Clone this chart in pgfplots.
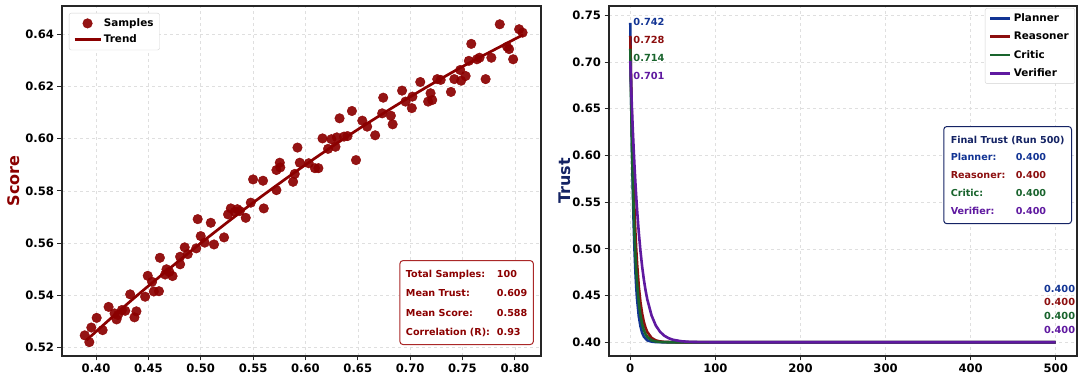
\documentclass[border=0pt]{standalone}
\usepackage{fontspec}
\setmainfont{DejaVu Sans}
\usepackage{pgfplots}
\usepackage{pgfplotstable}
\pgfplotsset{compat=1.18}
\definecolor{sred}{RGB}{139,0,0}
\definecolor{boxred}{RGB}{170,40,40}
\definecolor{pblue}{RGB}{18,52,148}
\definecolor{rred}{RGB}{140,15,15}
\definecolor{cgreen}{RGB}{25,100,45}
\definecolor{vpurple}{RGB}{95,25,160}
\definecolor{navy}{RGB}{20,35,100}

\pgfplotstableread{
x y
0.3892 0.5247
0.3936 0.5221
0.3955 0.5277
0.4006 0.5314
0.4063 0.5267
0.4120 0.5356
0.4177 0.5331
0.4196 0.5308
0.4210 0.5325
0.4247 0.5344
0.4279 0.5341
0.4326 0.5404
0.4367 0.5316
0.4386 0.5339
0.4469 0.5395
0.4494 0.5475
0.4535 0.5452
0.4552 0.5415
0.4601 0.5416
0.4610 0.5544
0.4660 0.5480
0.4673 0.5500
0.4700 0.5490
0.4731 0.5474
0.4803 0.5548
0.4847 0.5584
0.4876 0.5558
0.4803 0.5519
0.4957 0.5580
0.4971 0.5692
0.5000 0.5627
0.5038 0.5602
0.5096 0.5678
0.5127 0.5595
0.5223 0.5622
0.5261 0.5710
0.5287 0.5733
0.5325 0.5720
0.5350 0.5730
0.5373 0.5723
0.5430 0.5697
0.5478 0.5755
0.5500 0.5844
0.5595 0.5839
0.5602 0.5733
0.5723 0.5803
0.5723 0.5880
0.5755 0.5908
0.5760 0.5890
0.5882 0.5835
0.5898 0.5865
0.5946 0.5908
0.5924 0.5966
0.6032 0.5906
0.6091 0.5887
0.6124 0.5887
0.6163 0.6001
0.6216 0.5961
0.6248 0.5998
0.6287 0.5969
0.6300 0.6005
0.6326 0.6078
0.6369 0.6008
0.6402 0.6010
0.6444 0.6106
0.6483 0.5918
0.6543 0.6069
0.6590 0.6046
0.6666 0.6013
0.6743 0.6157
0.6733 0.6097
0.6816 0.6088
0.6833 0.6055
0.6923 0.6184
0.6956 0.6142
0.7016 0.6117
0.7022 0.6161
0.7097 0.6217
0.7172 0.6142
0.7211 0.6148
0.7195 0.6174
0.7259 0.6228
0.7292 0.6225
0.7390 0.6179
0.7422 0.6228
0.7478 0.6263
0.7487 0.6222
0.7530 0.6240
0.7561 0.6298
0.7584 0.6363
0.7638 0.6304
0.7663 0.6310
0.7721 0.6228
0.7776 0.6310
0.7856 0.6438
0.7926 0.6352
0.7945 0.6343
0.7984 0.6304
0.8041 0.6419
0.8074 0.6406
}\samples

\pgfplotsset{
  common/.style={
    scale only axis, anchor=south west, height=350pt,
    tick align=outside, major tick length=4.5pt,
    xtick pos=bottom, ytick pos=left,
    tick style={black!85, line width=0.9pt},
    axis line style={black!85, line width=1.3pt},
    grid=major, grid style={dashed, gray!25, line width=0.5pt},
    ticklabel style={font=\fontsize{11.6}{13}\selectfont\bfseries},
    /pgf/number format/assume math mode=true,
  }
}

\begin{document}
\begin{tikzpicture}
\useasboundingbox (0,0) rectangle (1079pt,377pt);
% ---------------- left panel ----------------
\begin{axis}[common,
  at={(62pt,21pt)}, width=479pt,
  xmin=0.3675, xmax=0.825, ymin=0.5168, ymax=0.6508,
  xtick={0.40,0.45,0.50,0.55,0.60,0.65,0.70,0.75,0.80},
  xticklabels={0.40,0.45,0.50,0.55,0.60,0.65,0.70,0.75,0.80},
  ytick={0.52,0.54,0.56,0.58,0.60,0.62,0.64},
  yticklabels={0.52,0.54,0.56,0.58,0.60,0.62,0.64},
  ylabel={Score},
  ylabel style={font=\fontsize{16}{19}\selectfont\bfseries, text=sred,
    at={(axis description cs:-0.1,0.5)}, anchor=center},
  legend style={at={(0.0146,0.98)}, anchor=north west, draw=gray!35,
    rounded corners=2pt, fill=white, font=\fontsize{10.4}{12}\selectfont\bfseries,
    inner xsep=4pt, inner ysep=3.5pt, row sep=3pt, cells={anchor=west}},
]
\addplot[only marks, mark=*, mark size=4.8pt, color=sred, fill opacity=0.92, draw opacity=0.92,
  legend image code/.code={\fill[sred] (13pt,0pt) circle (4.8pt);}]
  table[x=x, y=y] {\samples};
\addlegendentry{Samples}
\addplot[sred, line width=2.7pt, smooth,
  legend image code/.code={\draw[sred, line width=2.7pt] (0pt,0pt) -- (26pt,0pt);}]
  coordinates {(0.391,0.5229) (0.42,0.5333) (0.45,0.5436) (0.50,0.5600) (0.55,0.5755)
  (0.60,0.5900) (0.65,0.6035) (0.70,0.6160) (0.75,0.6276) (0.808,0.6398)};
\addlegendentry{Trend}
\node[draw=boxred, line width=1pt, rounded corners=3pt, fill=white, anchor=south east,
  inner xsep=6pt, inner ysep=3pt, text=sred, font=\fontsize{9.6}{11}\selectfont\bfseries]
  at (rel axis cs:0.985,0.0314)
  {\def\arraystretch{1.77}\begin{tabular}{@{}p{91pt}@{}l@{}}
  Total Samples: & 100\\ Mean Trust: & 0.609\\ Mean Score: & 0.588\\ Correlation (R): & 0.93
  \end{tabular}};
\end{axis}
% ---------------- right panel ----------------
\begin{axis}[common,
  at={(609pt,21pt)}, width=468pt,
  xmin=-25, xmax=525, ymin=0.3853, ymax=0.760,
  xtick={0,100,200,300,400,500},
  xticklabels={0,100,200,300,400,500},
  ytick={0.40,0.45,0.50,0.55,0.60,0.65,0.70,0.75},
  yticklabels={0.40,0.45,0.50,0.55,0.60,0.65,0.70,0.75},
  ylabel={Trust},
  ylabel style={font=\fontsize{16}{19}\selectfont\bfseries, text=navy,
    at={(axis description cs:-0.094,0.5)}, anchor=center},
  legend style={at={(0.9957,0.994)}, anchor=north east, draw=gray!35,
    rounded corners=2pt, fill=white, font=\fontsize{10.4}{12}\selectfont\bfseries,
    inner xsep=4pt, inner ysep=3.5pt, row sep=5pt, cells={anchor=west}},
]
\addplot[pblue, line width=2.6pt,
  legend image code/.code={\draw[pblue, line width=2.6pt] (0pt,0pt) -- (20pt,0pt);}]
  coordinates {(0,0.742)(1,0.666)(2,0.607)(3,0.562)(4,0.526)(5,0.498)(6,0.476)(7,0.459)(8,0.446)(10,0.428)(12,0.417)(14,0.410)(16,0.406)(18,0.404)(20,0.402)(25,0.4007)(30,0.4002)(40,0.400)(500,0.400)};
\addlegendentry{Planner}
\addplot[rred, line width=2.6pt,
  legend image code/.code={\draw[rred, line width=2.6pt] (0pt,0pt) -- (20pt,0pt);}]
  coordinates {(0,0.728)(1,0.6767)(2,0.6335)(3,0.597)(4,0.5662)(5,0.5402)(6,0.5183)(7,0.4998)(8,0.4842)(10,0.4599)(12,0.4426)(14,0.4304)(16,0.4216)(18,0.4154)(20,0.4110)(25,0.4047)(30,0.4020)(35,0.4009)(40,0.4004)(50,0.4001)(60,0.400)(500,0.400)};
\addlegendentry{Reasoner}
\addplot[cgreen, line width=2.6pt,
  legend image code/.code={\draw[cgreen, line width=2.6pt] (0pt,0pt) -- (20pt,0pt);}]
  coordinates {(0,0.714)(1,0.657)(2,0.6105)(3,0.572)(4,0.541)(5,0.5155)(6,0.4946)(7,0.4774)(8,0.4634)(10,0.4425)(12,0.4285)(14,0.4191)(16,0.4128)(18,0.4086)(20,0.4057)(25,0.4021)(30,0.4008)(35,0.4003)(40,0.4001)(50,0.400)(500,0.400)};
\addlegendentry{Critic}
\addplot[vpurple, line width=2.6pt,
  legend image code/.code={\draw[vpurple, line width=2.6pt] (0pt,0pt) -- (20pt,0pt);}]
  coordinates {(0,0.701)(1,0.674)(2,0.6494)(3,0.627)(4,0.6067)(5,0.5881)(6,0.5712)(7,0.5559)(8,0.5419)(10,0.5176)(12,0.4974)(14,0.4807)(16,0.4669)(18,0.4554)(20,0.4459)(25,0.4287)(30,0.4179)(35,0.4112)(40,0.4070)(45,0.4044)(50,0.4027)(60,0.4011)(70,0.4004)(80,0.4002)(100,0.400)(500,0.400)};
\addlegendentry{Verifier}
% start annotations
\begin{scope}[font=\fontsize{9.8}{11}\selectfont\bfseries]
\node[anchor=west, text=pblue, inner sep=0pt] at (axis cs:3.5,0.7433) {0.742};
\node[anchor=west, text=rred, inner sep=0pt] at (axis cs:3.5,0.7237) {0.728};
\node[anchor=west, text=cgreen, inner sep=0pt] at (axis cs:3.5,0.7040) {0.714};
\node[anchor=west, text=vpurple, inner sep=0pt] at (axis cs:3.5,0.6848) {0.701};
\node[anchor=east, text=pblue, inner sep=0pt] at (axis cs:523,0.4576) {0.400};
\node[anchor=east, text=rred, inner sep=0pt] at (axis cs:523,0.4431) {0.400};
\node[anchor=east, text=cgreen, inner sep=0pt] at (axis cs:523,0.4287) {0.400};
\node[anchor=east, text=vpurple, inner sep=0pt] at (axis cs:523,0.4137) {0.400};
\end{scope}
\node[draw=navy, line width=1pt, rounded corners=3pt, fill=white, anchor=north east,
  inner xsep=7pt, inner ysep=4pt, font=\fontsize{9.6}{11}\selectfont\bfseries]
  at (rel axis cs:0.9893,0.657)
  {\def\arraystretch{1.62}\begin{tabular}{@{}p{65pt}@{}l@{}}
  \multicolumn{2}{@{}l@{}}{\textcolor{navy}{Final Trust (Run 500)}}\\
  \textcolor{pblue}{Planner:} & \textcolor{pblue}{0.400}\\
  \textcolor{rred}{Reasoner:} & \textcolor{rred}{0.400}\\
  \textcolor{cgreen}{Critic:} & \textcolor{cgreen}{0.400}\\
  \textcolor{vpurple}{Verifier:} & \textcolor{vpurple}{0.400}
  \end{tabular}};
\end{axis}
\end{tikzpicture}
\end{document}
